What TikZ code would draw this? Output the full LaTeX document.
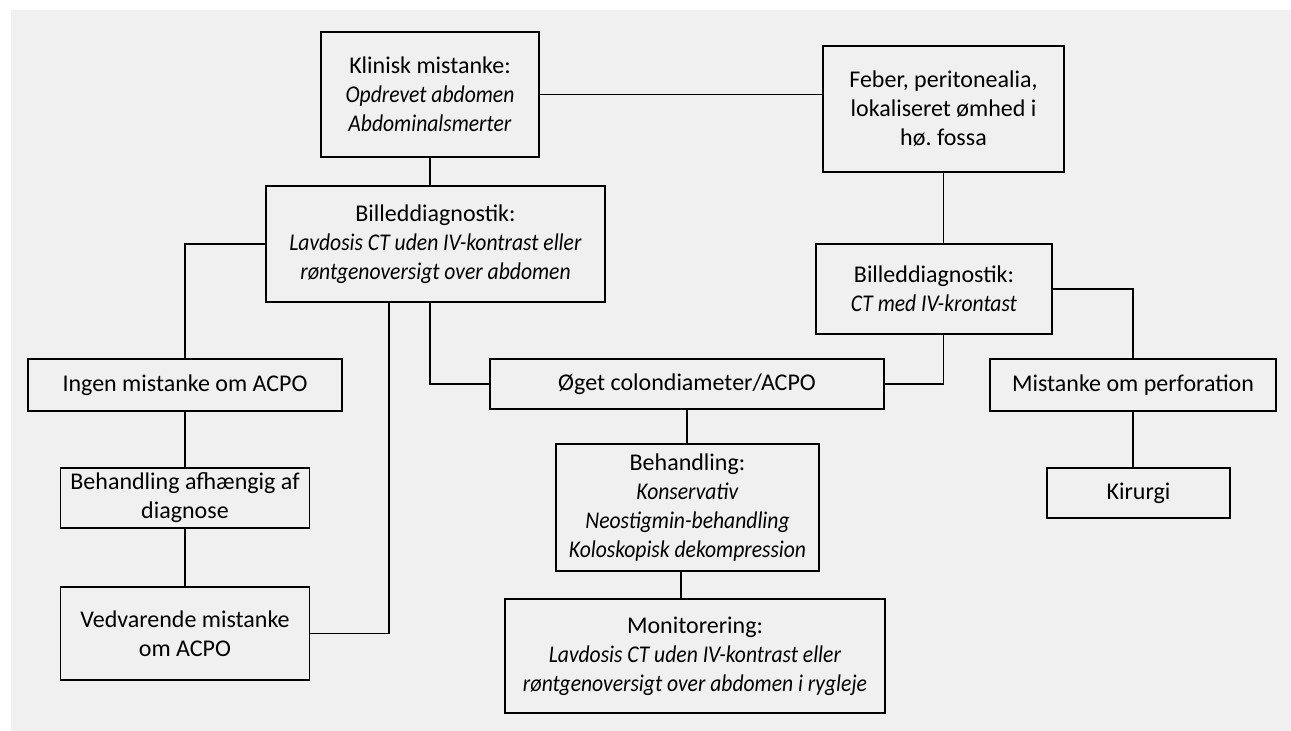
\documentclass[tikz,border=0pt]{standalone}
\usepackage{fontspec}
\setmainfont{Carlito}[ItalicFeatures={FakeStretch=0.9}]
\usetikzlibrary{positioning,calc}
\definecolor{panelgray}{HTML}{F0F0F0}
\tikzset{
	box/.style={draw,line width=1.8pt,align=center,inner sep=0pt,font=\fontsize{24}{29}\selectfont},
	link/.style={color=black,line width=1.8pt}
}

\begin{document}
\begin{tikzpicture}[x=1pt,y=-1pt]
	\useasboundingbox (0,0) rectangle (1291,731);
	\fill[panelgray] (11,10) rectangle (1291,731);
	%%%top
	\node[box,minimum width=218,minimum height=125] (klin) at (430,94.5) {Klinisk mistanke:\\\textit{Opdrevet abdomen}\\\textit{Abdominalsmerter}};
	\node[box,minimum width=241,minimum height=126] (feber) at (943.5,109) {Feber, peritonealia,\\lokaliseret ømhed i\\hø.\ fossa};
	\node[box,minimum width=339,minimum height=116] (bill1) at (435.5,244) {Billeddiagnostik:\\\textit{Lavdosis CT uden IV-kontrast eller}\\\textit{røntgenoversigt over abdomen}};
	\node[box,minimum width=236,minimum height=90] (bill2) at (934,289) {Billeddiagnostik:\\\textit{CT med IV-krontast}};
	%%%middle row
	\node[box,minimum width=314,minimum height=52] (ingen) at (185,385) {Ingen mistanke om ACPO};
	\node[box,minimum width=394,minimum height=50] (oget) at (687,384) {Øget colondiameter/ACPO};
	\node[box,minimum width=286,minimum height=52] (perf) at (1133,385) {Mistanke om perforation};
	%%%lower rows
	\node[box,minimum width=249,minimum height=60] (behafh) at (185,498) {Behandling afhængig af\\diagnose};
	\node[box,minimum width=263,minimum height=127] (beh) at (687.5,507.5) {Behandling:\\\textit{Konservativ}\\\textit{Neostigmin-behandling}\\\textit{Koloskopisk dekompression}};
	\node[box,minimum width=183,minimum height=50] (kir) at (1138.5,493) {Kirurgi};
	\node[box,minimum width=249,minimum height=93] (vedv) at (185,633.5) {Vedvarende mistanke\\om ACPO};
	\node[box,minimum width=380,minimum height=114] (mon) at (695,656) {Monitorering:\\\textit{Lavdosis CT uden IV-kontrast eller}\\\textit{røntgenoversigt over abdomen i rygleje}};

	\draw[link] (klin.east) -- (klin.east -| feber.west);
	\draw[link] (klin.south) -- (klin.south |- bill1.north);
	\draw[link] (feber.south) -- (feber.south |- bill2.north);
	\draw[link] (bill1.west) -| (ingen.north);
	\draw[link] (ingen) -- (behafh) -- (vedv);
	\draw[link] (vedv.east) -| ([xshift=-46.5pt]bill1.south);
	\draw[link] (bill1.south -| klin.south) |- (oget.west);
	\draw[link] (oget.east) -| (feber.south |- bill2.south);
	\draw[link] (oget.south) -- (oget.south |- beh.north);
	\draw[link] ([xshift=-6.5pt]beh.south) -- ([xshift=-6.5pt]beh.south |- mon.north);
	\draw[link] (bill2.east) -| (perf.north);
	\draw[link] (perf.south) -- (perf.south |- kir.north);
\end{tikzpicture}
\end{document}
